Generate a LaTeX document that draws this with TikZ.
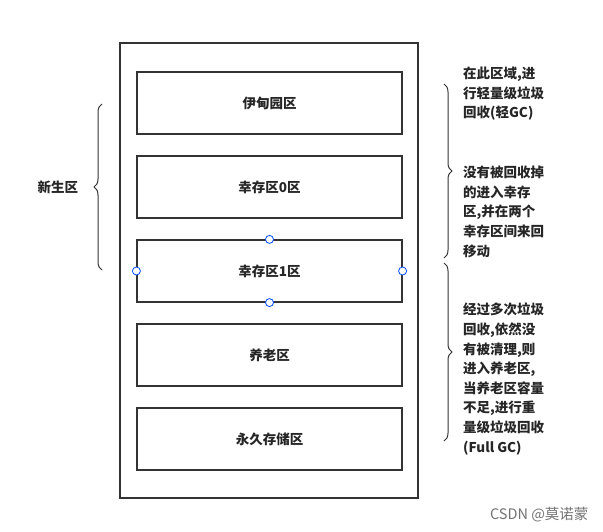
\documentclass[tikz,border=0pt]{standalone}
\usepackage{fontspec}
\newfontfamily\cjk{Noto Sans CJK SC}
\usetikzlibrary{decorations.pathreplacing}
\begin{document}
\begin{tikzpicture}[x=1pt,y=-1pt,
  lay/.style={draw=black!80,line width=1.2pt,minimum width=265pt,minimum height=62pt,font=\cjk\bfseries\fontsize{13.5}{16}\selectfont,text=black!85},
  br/.style={decorate,decoration={brace,amplitude=8pt},line width=1pt,draw=black!80},
  note/.style={align=left,anchor=north west,font=\cjk\bfseries\fontsize{13.5}{19.6}\selectfont,text=black!85,inner sep=0pt},
  handle/.style={circle,draw=blue!70!cyan,fill=white,line width=0.8pt,inner sep=0pt,minimum size=8pt}]
\useasboundingbox (0,0) rectangle (603,532);
\node[draw=black!80,line width=1.2pt,minimum width=298pt,minimum height=455pt] (outer) at (269,270.5) {};
\node[lay] (a) at (269.5,103) {伊甸园区};
\node[lay] (b) at (269.5,187) {幸存区0区};
\node[lay] (c) at (269.5,271) {幸存区1区};
\node[lay] (d) at (269.5,355) {养老区};
\node[lay] (e) at (269.5,439) {永久存储区};
\node[handle] at (c.north) {};
\node[handle] at (c.south) {};
\node[handle] at (c.west) {};
\node[handle] at (c.east) {};
\coordinate (l1) at (102,270); \coordinate (l2) at (102,104);
\draw[br] (l1) -- (l2);
\node[font=\cjk\bfseries\fontsize{13.5}{16}\selectfont,text=black!85] (xs) at (58,187) {新生区};
\coordinate (r1) at (444,84); \coordinate (r2) at (444,258);
\coordinate (r3) at (444,263); \coordinate (r4) at (444,441);
\draw[br] (r1) -- (r2);
\draw[br] (r3) -- (r4);
\node[note] (n1) at (463,67) {在此区域,进\\行轻量级垃圾\\回收(轻GC)};
\node[note] (n2) at (463,166) {没有被回收掉\\的进入幸存\\区,并在两个\\幸存区间来回\\移动};
\node[note] (n3) at (463,303) {经过多次垃圾\\回收,依然没\\有被清理,则\\进入养老区,\\当养老区容量\\不足,进行重\\量级垃圾回收\\(Full GC)};
\node[anchor=south east,font=\cjk\fontsize{14.5}{16}\selectfont,text=black!55] (wm) at (592,526) {CSDN @莫诺蒙};
\end{tikzpicture}
\end{document}
